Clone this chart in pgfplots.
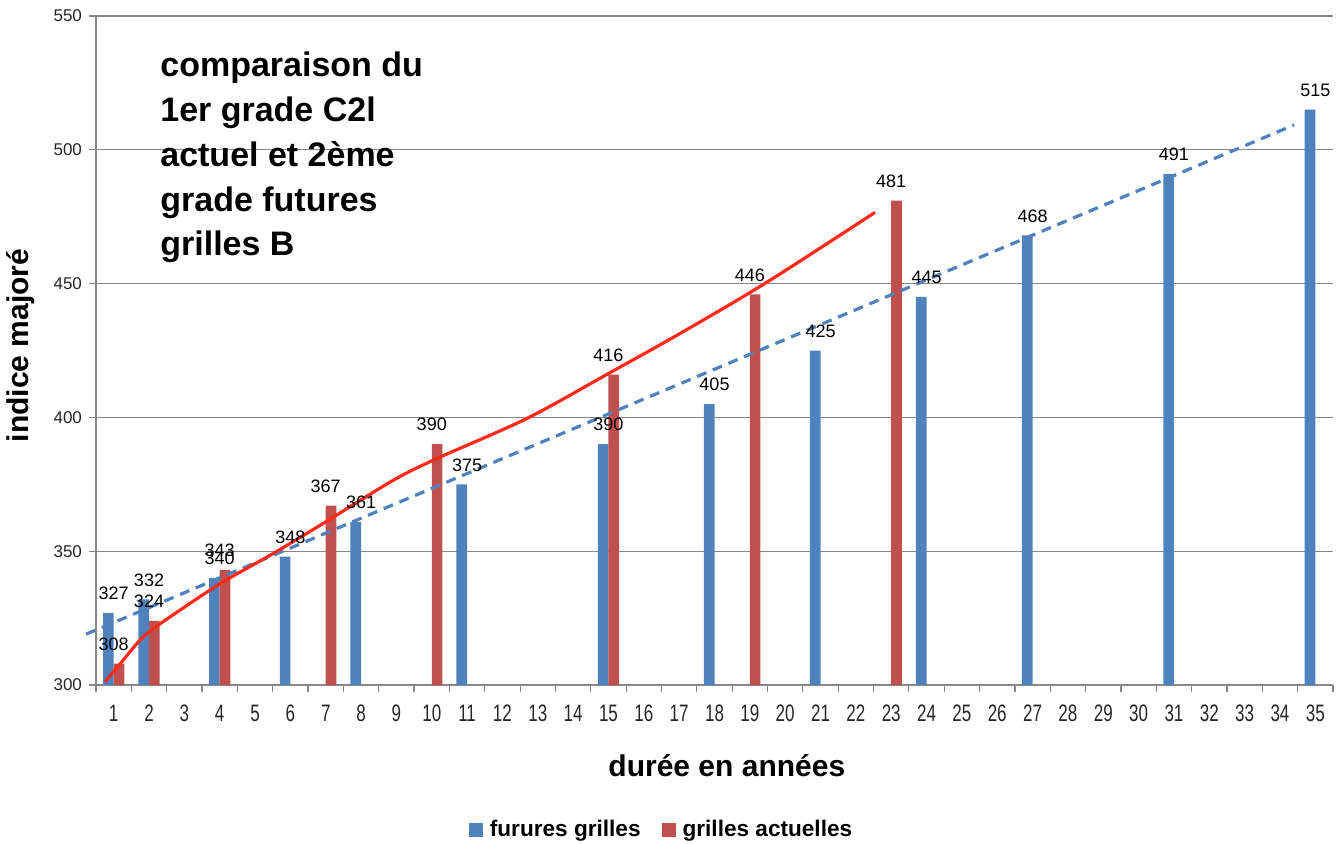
\documentclass[border=0pt]{standalone}
\usepackage{fontspec}
\setmainfont{Liberation Sans}
\usepackage{pgfplots}
\pgfplotsset{compat=1.18}
\usepackage{graphicx}
\definecolor{barblue}{HTML}{4F81BD}
\definecolor{barred}{HTML}{C0504D}
\definecolor{trendred}{HTML}{FF2A1A}
\definecolor{gridgray}{HTML}{878787}
\begin{document}
\begin{tikzpicture}
\path[use as bounding box] (-48pt,-79pt) rectangle (624pt,342.5pt);
\begin{axis}[
  at={(0,0)}, anchor=south west,
  scale only axis, width=618.5pt, height=334.5pt,
  xmin=0.5, xmax=35.5, ymin=300, ymax=550,
  clip=false,
  axis lines*=left,
  axis line style={gridgray, line width=0.6pt},
  xtick={1,...,35},
  minor xtick={0.5,1.5,...,35.5},
  ytick={300,350,...,550},
  ymajorgrids, grid style={gridgray, line width=0.6pt},
  tick align=outside,
  major tick length=3.5pt, minor tick length=3.5pt,
  major x tick style={draw=none},
  minor x tick style={gridgray, line width=0.6pt},
  y tick style={gridgray, line width=0.6pt},
  /pgf/number format/assume math mode=true,
  xticklabel={\scalebox{1}[1.4]{\pgfmathprintnumber{\tick}}},
  x tick label style={font=\fontsize{8.5pt}{10pt}\selectfont, text=black!85, anchor=center, yshift=-10.5pt},
  y tick label style={font=\fontsize{8.5pt}{10pt}\selectfont, text=black!85},
  xlabel={durée en années},
  ylabel={indice majoré},
  xlabel style={font=\fontsize{15pt}{18pt}\selectfont\bfseries, at={(axis description cs:0.510,-0.1203)}, anchor=center},
  ylabel style={font=\fontsize{15pt}{18pt}\selectfont\bfseries, at={(axis description cs:-0.0606,0.5075)}, anchor=center},
  legend image code/.code={\fill[#1] (0pt,-3.5pt) rectangle (7pt,3.5pt); \path (8.5pt,0pt);},
  legend style={at={(axis description cs:0.458,-0.2167)}, anchor=center, draw=none, fill=none,
    legend columns=2, font=\fontsize{11.3pt}{13pt}\selectfont\bfseries,
    /tikz/every even column/.append style={column sep=8.5pt},
    nodes={inner sep=2pt}},
  every node near coord/.append style={font=\fontsize{9pt}{10pt}\selectfont, text=black, yshift=3pt},
]
\addplot[ybar, bar width=0.3, bar shift=-0.15, fill=barblue, draw=none, nodes near coords]
  coordinates {(1,327) (2,332) (4,340) (6,348) (8,361) (11,375) (15,390) (18,405) (21,425) (24,445) (27,468) (31,491) (35,515)};
\addlegendentry{furures grilles}
\addplot[ybar, bar width=0.3, bar shift=0.15, fill=barred, draw=none, nodes near coords]
  coordinates {(1,308) (2,324) (4,343) (7,367) (10,390) (15,416) (19,446) (23,481)};
\addlegendentry{grilles actuelles}
% trend lines
\addplot[forget plot, barblue, line width=1.6pt, dash pattern=on 5pt off 3.5pt]
  coordinates {(0.22,319) (34.4,509.3)};
\addplot[forget plot, trendred, line width=1.6pt, smooth, tension=0.5]
  coordinates {(0.755,301.2) (1.27,309.3) (1.745,316.8) (2.22,322) (3.16,330.5) (4.1,338.6) (5.52,349.2) (6.93,360.4) (8.91,376.5) (10.14,384.6) (12.69,399.6) (15.0,416.4) (17.03,431.4) (19.48,450.5) (22.54,476.6)};
\node[anchor=north west, align=left, inner sep=0pt, font=\fontsize{17pt}{22.4pt}\selectfont\bfseries]
  at (axis description cs:0.0517,0.9468) {comparaison du\\1er grade C2l\\actuel et 2ème\\grade futures\\grilles B};
\end{axis}
\end{tikzpicture}
\end{document}
